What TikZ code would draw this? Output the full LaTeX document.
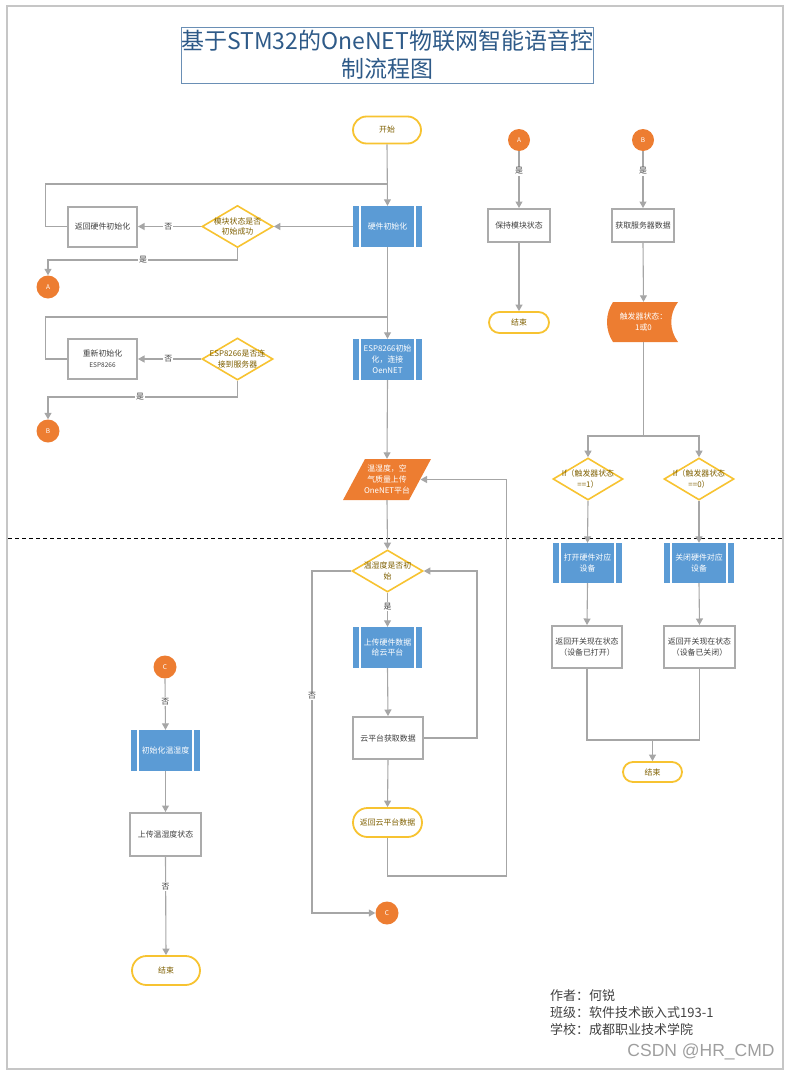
\documentclass[tikz,border=0pt]{standalone}
\usepackage{fontspec}
\setmainfont{Noto Sans CJK SC}
\newfontfamily\wmfont{Liberation Sans}
\usetikzlibrary{shapes.geometric,shapes.misc,arrows.meta,calc}
\definecolor{cblue}{HTML}{5B9BD5}
\definecolor{corange}{HTML}{ED7D31}
\definecolor{cyel}{HTML}{F7C331}
\definecolor{cyeltext}{HTML}{7F6000}
\definecolor{cgray}{HTML}{ABABAB}
\definecolor{cline}{HTML}{A6A6A6}
\definecolor{ctext}{HTML}{404040}
\definecolor{ctitle}{HTML}{2E5A88}
\definecolor{ctitlebox}{HTML}{6A8FB5}
\definecolor{cborder}{HTML}{C6C6C6}
\newcommand\nfont{\fontsize{7.9}{10.8}\selectfont}
\newcommand\cfont{\fontsize{6.5}{7}\selectfont}
\begin{document}
\begin{tikzpicture}[x=1pt,y=-1pt,
  arr/.style={draw=cline, line width=1.1pt, -{Triangle[width=7pt,length=6.5pt]}},
  ln/.style={draw=cline, line width=1.1pt},
  pbox/.style={fill=cblue, draw=none, text=white, minimum width=69pt, minimum height=41pt,
    inner sep=1pt, align=center, font=\nfont,
    path picture={\draw[white,line width=1.2pt]
      ([xshift=7pt]path picture bounding box.north west) -- ([xshift=7pt]path picture bounding box.south west)
      ([xshift=-7pt]path picture bounding box.north east) -- ([xshift=-7pt]path picture bounding box.south east);}},
  gbox/.style={draw=cgray, line width=2pt, fill=white, text=ctext, minimum width=69pt,
    minimum height=40pt, inner sep=1pt, align=center, font=\nfont},
  dec/.style={diamond, draw=cyel, line width=1.6pt, fill=white, minimum width=71pt,
    minimum height=42pt, inner sep=0pt},
  dtext/.style={align=center, text=cyeltext, font=\nfont, inner sep=0pt},
  term/.style={rounded rectangle, draw=cyel, line width=1.8pt, fill=white, text=cyeltext,
    font=\nfont, inner sep=1pt},
  conn/.style={circle, fill=corange, text=white, minimum size=23pt, inner sep=0pt, font=\cfont},
  lbl/.style={fill=white, inner sep=1pt, text=ctext, font=\nfont},
  foot/.style={anchor=west, text=ctext, font=\fontsize{13}{17}\selectfont, inner sep=0pt}
]
\useasboundingbox (0,0) rectangle (790,1071);
% outer border
\draw[cborder, line width=1.2pt] (7,6) rectangle (783,1069);
% dashed separator
\draw[black, line width=0.8pt, dash pattern=on 4pt off 3pt] (8,538) -- (783,538);

% title
\node[draw=ctitlebox, line width=0.8pt, minimum width=410pt, minimum height=56pt, inner sep=0pt,
  text=ctitle, align=center, font=\fontsize{23}{28}\selectfont] (title) at (387,55)
  {基于STM32的OneNET物联网智能语音控\\制流程图};

% ---------- main column ----------
\node[term, minimum width=70pt, minimum height=27pt] (start) at (387,130) {开始};
\node[pbox] (hw) at (387.5,226.5) {硬件初始化};
\node[dec, label={[dtext]center:{模块状态是否\\初始成功}}] (d1) at (237.5,226.5) {};
\node[gbox] (ret1) at (102.5,226.5) {返回硬件初始化};
\node[conn] (A1) at (48,287) {A};

\node[pbox] (esp) at (387.5,359.5) {ESP8266初始\\化，连接\\OenNET};
\node[dec, label={[dtext]center:{ESP8266是否连\\接到服务器}}] (d2) at (237.5,359) {};
\node[gbox] (ret2) at (102.5,359) {重新初始化\\{\fontsize{6.5}{9}\selectfont ESP8266}};
\node[conn] (B1) at (48,431) {B};

% parallelogram
\fill[corange] (365,459) -- (431,459) -- (409,500) -- (343,500) -- cycle;
\node[draw=none, minimum width=66pt, minimum height=41pt, inner sep=0pt, text=white,
  align=center, font=\nfont] (para) at (387,479.5) {温湿度，空\\气质量上传\\OneNET平台};
\coordinate (paraR) at (420.5,479.5);

\node[dec, label={[dtext]center:{温湿度是否初\\始}}] (d3) at (387.5,571) {};
\node[pbox] (up) at (387.5,647.5) {上传硬件数据\\给云平台};
\node[gbox, minimum width=70pt, minimum height=42pt] (cloud) at (388,738) {云平台获取数据};
\node[term, minimum width=71pt, minimum height=29pt] (retc) at (387.5,822.5) {返回云平台数据};
\node[conn] (C1) at (387,913) {C};

% ---------- left column C ----------
\node[conn] (C2) at (165,667) {C};
\node[pbox] (initt) at (165.5,750.5) {初始化温湿度};
\node[gbox, minimum width=71pt, minimum height=43pt] (upt) at (165.5,834.5) {上传温湿度状态};
\node[term, minimum width=70pt, minimum height=29pt] (end1) at (166,970.5) {结束};

% ---------- column A ----------
\node[conn, minimum size=22pt] (A2) at (519,140) {A};
\node[gbox, minimum width=62pt, minimum height=33pt] (keep) at (519,225.5) {保持模块状态};
\node[term, minimum width=62pt, minimum height=21pt] (end2) at (519,322.5) {结束};

% ---------- column B ----------
\node[conn, minimum size=22pt] (B2) at (643,140) {B};
\node[gbox, minimum width=62pt, minimum height=33pt] (get) at (643,225.5) {获取服务器数据};
\fill[corange] (613,302) -- (678,302) .. controls (669,314) and (669,330) .. (678,342)
  -- (613,342) .. controls (605,330) and (605,314) .. (613,302) -- cycle;
\node[draw=none, minimum width=69pt, minimum height=40pt, inner sep=0pt, text=white,
  align=center, font=\nfont] (trig) at (643.5,322) {触发器状态：\\1或0};
\coordinate (j3) at (643.5,436);

\node[dec, minimum width=70pt, label={[dtext]center:{If（触发器状态\\==1）}}] (d4) at (588,479) {};
\node[dec, minimum width=70pt, label={[dtext]center:{If（触发器状态\\==0）}}] (d5) at (699,479) {};
\node[pbox, minimum height=40pt] (open) at (587.5,563) {打开硬件对应\\设备};
\node[pbox, minimum width=70pt, minimum height=40pt] (close) at (699,563) {关闭硬件对应\\设备};
\node[gbox, minimum width=70pt, minimum height=42pt] (ro) at (587,647) {返回开关现在状态\\（设备已打开）};
\node[gbox, minimum width=71pt, minimum height=42pt] (rc) at (699.5,647) {返回开关现在状态\\（设备已关闭）};
\coordinate (j4) at (652.5,740);
\node[term, minimum width=61pt, minimum height=20pt] (end3) at (652.5,772) {结束};

% ---------- connectors ----------
\coordinate (j1) at (387.5,184);
\coordinate (j2) at (387.5,317);
\draw[arr] (start.south) -- (hw.north);
\draw[ln] (ret1.west) -- ++(-21.5,0) |- (j1);
\draw[arr] (hw.west) -- (d1.east);
\draw[arr] (d1.west) -- node[lbl, pos=0.52] {否} (ret1.east);
\draw[arr] (d1.south) |- (120,260) -| (A1.north);
\node[lbl] at (143,260) {是};

\draw[arr] (hw.south) -- (esp.north);
\draw[ln] (ret2.west) -- ++(-21.5,0) |- (j2);
\draw[arr] (d2.west) -- node[lbl, pos=0.52] {否} (ret2.east);
\draw[arr] (d2.south) |- (120,397) -| (B1.north);
\node[lbl] at (140,397) {是};

\draw[arr] (esp.south) -- (para.north);
\draw[arr] (para.south) -- (d3.north);
\draw[arr] (d3.south) -- node[lbl, pos=0.4] {是} (up.north);
\draw[arr] (up.south) -- (cloud.north);
\draw[arr] (cloud.east) -| (477,650) |- (d3.east);
\draw[arr] (d3.west) -| (312,800) |- (C1.west);
\node[lbl] at (312,696) {否};
\draw[arr] (cloud.south) -- (retc.north);
\draw[arr] (retc.south) |- (506.5,876) |- (paraR);

\draw[arr] (C2.south) -- node[lbl, pos=0.45] {否} (initt.north);
\draw[arr] (initt.south) -- (upt.north);
\draw[arr] (upt.south) -- node[lbl, pos=0.3] {否} (end1.north);

\draw[arr] (A2.south) -- node[lbl, pos=0.35] {是} (keep.north);
\draw[arr] (keep.south) -- (end2.north);
\draw[arr] (B2.south) -- node[lbl, pos=0.35] {是} (get.north);
\draw[arr] (get.south) -- (trig.north);
\draw[ln] (trig.south) -- (j3);
\draw[arr] (j3) -| (d4.north);
\draw[arr] (j3) -| (d5.north);
\draw[arr] (d4.south) -- (open.north);
\draw[arr] (d5.south) -- (close.north);
\draw[arr] (open.south) -- (ro.north);
\draw[arr] (close.south) -- (rc.north);
\draw[ln] (ro.south) |- (j4);
\draw[ln] (rc.south) |- (j4);
\draw[arr] (j4) -- (end3.north);

% footer
\node[foot] (f1) at (550,996) {作者：何锐};
\node[foot] (f2) at (550,1013) {班级：软件技术嵌入式193-1};
\node[foot] (f3) at (550,1030) {学校：成都职业技术学院};
\node[text=black!38, font=\wmfont\fontsize{17.5}{20}\selectfont, inner sep=0pt] (wm) at (701,1052) {CSDN @HR\_CMD};
\end{tikzpicture}
\end{document}
